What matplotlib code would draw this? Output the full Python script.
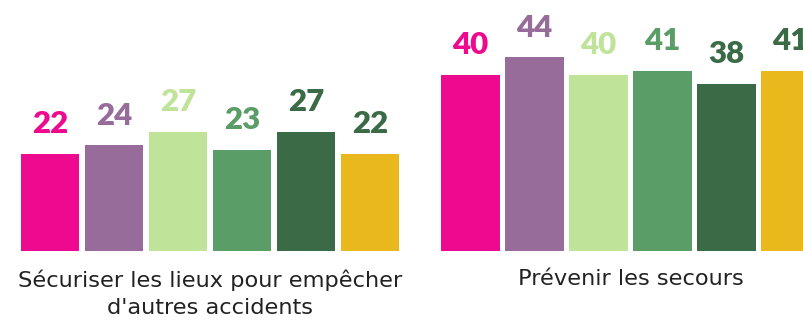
import matplotlib
matplotlib.use("Agg")
import matplotlib.pyplot as plt
import numpy as np

# two question groups, six answer series each
groups = ["Sécuriser les lieux pour empêcher\nd'autres accidents", "Prévenir les secours"]
values_secure = [22, 24, 27, 23, 27, 22]
values_alert = [40, 44, 40, 41, 38, 41]

bar_colors = ["#EE0A8E", "#976B9A", "#C0E39A", "#5A9D66", "#3B6A46", "#E8B81D"]
label_colors = ["#EE0A8E", "#976B9A", "#C0E39A", "#5A9D66", "#3B6A46", "#3B6A46"]

group_start = [0.0, 6.57]
bar_width = 0.92

fig = plt.figure(figsize=(8.04, 3.25), dpi=100)
ax = fig.add_axes([0, 74 / 325, 1, 251 / 325])

for start, vals, name in zip(group_start, [values_secure, values_alert], groups):
    x = start + np.arange(len(vals))
    ax.bar(x, vals, width=bar_width, color=bar_colors, edgecolor="none")
    for xi, v, c in zip(x, vals, label_colors):
        ax.annotate(str(v), (xi, v), xytext=(0, 15), textcoords="offset points",
                    ha="center", va="baseline", fontsize=22.5, fontweight="heavy",
                    color=c, family="Lato")
    ax.text(start + 2.5, -4.1, name, ha="center", va="top", fontsize=16.2,
            color="#222222", family="DejaVu Sans", linespacing=1.45,
            transform=ax.transData, clip_on=False)

ax.set_xlim(-50 / 64, (804 - 50) / 64)
ax.set_ylim(0, 251 / 4.4)
ax.axis("off")

fig.savefig("out.png", dpi=100)
